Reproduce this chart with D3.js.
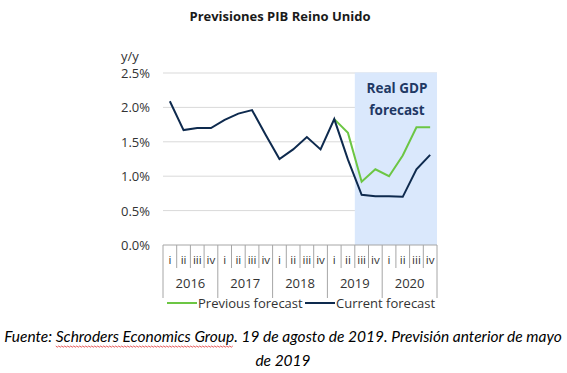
<!DOCTYPE html>
<html>
<head>
<meta charset="utf-8">
<script src="https://cdn.jsdelivr.net/npm/d3@7"></script>
<style>
  body { margin: 0; background: #fff; }
  svg { display: block; }
</style>
</head>
<body>
<svg id="chart"></svg>
<script>
var years = ['2016', '2017', '2018', '2019', '2020'];
var quarters = ['i', 'ii', 'iii', 'iv'];
var yTicks = [0, 0.5, 1.0, 1.5, 2.0, 2.5];

// current forecast, one value per quarter 2016 i .. 2020 iv
var current = [2.09, 1.67, 1.70, 1.70, 1.82, 1.91, 1.96, 1.60,
               1.25, 1.39, 1.57, 1.39, 1.83, 1.24, 0.73, 0.71,
               0.71, 0.70, 1.10, 1.31];
// previous forecast, from 2019 i onward
var previous = [null, null, null, null, null, null, null, null,
                null, null, null, null, 1.83, 1.63, 0.92, 1.10,
                1.00, 1.30, 1.71, 1.71];
var shadeFrom = 14; // 2019 iii

var width = 567, height = 373;
var svg = d3.select('#chart').attr('width', width).attr('height', height);

var cats = [];
years.forEach(function (y) {
  quarters.forEach(function (q) { cats.push(y + '-' + q); });
});

var x = d3.scaleBand().domain(cats).range([163, 437]).padding(0);
var y = d3.scaleLinear().domain([0, 2.5]).range([245, 73]);

var font = '"Open Sans", sans-serif';
var txt = '#333333';

// title
svg.append('text')
  .attr('x', 280).attr('y', 21)
  .attr('text-anchor', 'middle')
  .style('font', 'bold 13px ' + font)
  .attr('fill', '#1a1a1a')
  .text('Previsiones PIB Reino Unido');

// gridlines
svg.append('g')
  .selectAll('line')
  .data(yTicks.filter(function (d) { return d > 0; }))
  .enter().append('line')
  .attr('x1', x.range()[0]).attr('x2', x.range()[1])
  .attr('y1', function (d) { return y(d); })
  .attr('y2', function (d) { return y(d); })
  .attr('stroke', '#d9d9d9')
  .attr('stroke-width', 1);

// shaded forecast area (covers the gridlines)
svg.append('rect')
  .attr('x', x(cats[shadeFrom]))
  .attr('y', y(2.5) - 0.5)
  .attr('width', x.range()[1] - x(cats[shadeFrom]))
  .attr('height', y(0) - y(2.5) + 0.5)
  .attr('fill', '#dae8fc');

svg.append('text')
  .attr('x', 397).attr('y', 93)
  .attr('text-anchor', 'middle')
  .style('font', 'bold 13.5px ' + font)
  .attr('fill', '#1f3864')
  .text('Real GDP');
svg.append('text')
  .attr('x', 397).attr('y', 115)
  .attr('text-anchor', 'middle')
  .style('font', 'bold 13.5px ' + font)
  .attr('fill', '#1f3864')
  .text('forecast');

// y axis
var yAxis = svg.append('g')
  .attr('transform', 'translate(150,0)')
  .call(d3.axisLeft(y).tickValues(yTicks).tickSize(0).tickPadding(0)
    .tickFormat(function (d) { return d.toFixed(1) + '%'; }));
yAxis.select('.domain').remove();
yAxis.selectAll('text')
  .style('font', '13px ' + font)
  .attr('fill', txt)
  .attr('dy', '0.35em');

svg.append('text')
  .attr('x', 121).attr('y', 61)
  .style('font', '13px ' + font)
  .attr('fill', txt)
  .text('y/y');

// category axis
var axisCol = '#a6a6a6';
var gx = svg.append('g');
gx.append('line')
  .attr('x1', x.range()[0]).attr('x2', x.range()[1])
  .attr('y1', y(0)).attr('y2', y(0))
  .attr('stroke', axisCol);

var bounds = d3.range(cats.length + 1);
gx.selectAll('line.tick')
  .data(bounds)
  .enter().append('line')
  .attr('class', 'tick')
  .attr('x1', function (i) { return x.range()[0] + i * x.bandwidth(); })
  .attr('x2', function (i) { return x.range()[0] + i * x.bandwidth(); })
  .attr('y1', y(0))
  .attr('y2', function (i) { return i % 4 === 0 ? 298 : 268; })
  .attr('stroke', axisCol);

gx.selectAll('text.q')
  .data(cats)
  .enter().append('text')
  .attr('class', 'q')
  .attr('x', function (d) { return x(d) + x.bandwidth() / 2; })
  .attr('y', 264)
  .attr('text-anchor', 'middle')
  .style('font', '11.5px ' + font)
  .attr('fill', txt)
  .text(function (d) { return d.split('-')[1]; });

gx.selectAll('text.yr')
  .data(years)
  .enter().append('text')
  .attr('class', 'yr')
  .attr('x', function (d) { return x(d + '-i') + x.bandwidth() * 2; })
  .attr('y', 288)
  .attr('text-anchor', 'middle')
  .style('font', '13px ' + font)
  .attr('fill', txt)
  .text(function (d) { return d; });

// lines
var line = d3.line()
  .defined(function (d) { return d != null; })
  .x(function (d, i) { return x(cats[i]) + x.bandwidth() / 2; })
  .y(function (d) { return y(d); });

svg.append('path')
  .datum(previous)
  .attr('d', line)
  .attr('fill', 'none')
  .attr('stroke', '#6cc644')
  .attr('stroke-width', 2);

svg.append('path')
  .datum(current)
  .attr('d', line)
  .attr('fill', 'none')
  .attr('stroke', '#0e2a4e')
  .attr('stroke-width', 2);

// legend
var legend = [
  { name: 'Previous forecast', color: '#6cc644', x: 167 },
  { name: 'Current forecast', color: '#0e2a4e', x: 305 }
];
var lg = svg.append('g').selectAll('g')
  .data(legend)
  .enter().append('g')
  .attr('transform', function (d) { return 'translate(' + d.x + ',303)'; });
lg.append('line')
  .attr('x1', 0).attr('x2', 30)
  .attr('stroke', function (d) { return d.color; })
  .attr('stroke-width', 2);
lg.append('text')
  .attr('x', 31).attr('y', 0)
  .attr('dy', '0.35em')
  .style('font', '13px ' + font)
  .attr('fill', txt)
  .text(function (d) { return d.name; });

// source note
var foot = '"Lato", sans-serif';
var note = svg.append('text')
  .attr('x', 283).attr('y', 342)
  .attr('text-anchor', 'middle')
  .style('font', 'italic 15.5px ' + foot)
  .attr('fill', '#000');
note.append('tspan').text('Fuente: ');
note.append('tspan').text('Schroders Economics Group');
note.append('tspan').text('. 19 de agosto de 2019. Previsión anterior de mayo');

svg.append('text')
  .attr('x', 283).attr('y', 366)
  .attr('text-anchor', 'middle')
  .style('font', 'italic 15.5px ' + foot)
  .attr('fill', '#000')
  .text('de 2019');

// spell-check squiggle under the source name
var n = note.node();
var start = n.getStartPositionOfChar(8).x;
var end = n.getEndPositionOfChar(32).x;
var pts = [];
for (var px = start, k = 0; px <= end; px += 1.5, k++) {
  pts.push([px, 346 + (k % 2 ? 1.2 : 0)]);
}
svg.append('path')
  .attr('d', d3.line()(pts))
  .attr('fill', 'none')
  .attr('stroke', '#e03030')
  .attr('stroke-width', 0.8);
</script>
</body>
</html>
